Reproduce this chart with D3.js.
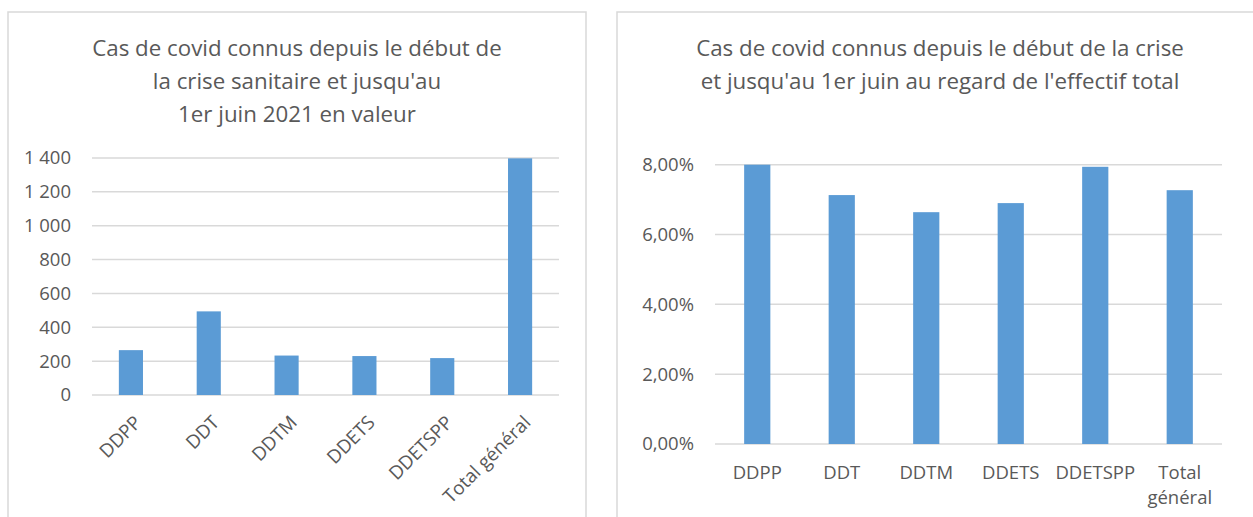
<!DOCTYPE html>
<html>
<head>
<meta charset="utf-8">
<script src="https://cdn.jsdelivr.net/npm/d3@7"></script>
<style>
  body { margin: 0; background: #fff; }
  text { font-family: "Open Sans", sans-serif; fill: #595959; }
</style>
</head>
<body>
<div id="chart"></div>
<script>
// Data
const categories = ["DDPP", "DDT", "DDTM", "DDETS", "DDETSPP", "Total général"];
const casValeur = [265, 494, 233, 230, 218, 1398];
const casTaux = [0.0800, 0.0713, 0.0664, 0.0690, 0.0794, 0.0727];
const valeurTicks = [0, 200, 400, 600, 800, 1000, 1200, 1400];
const tauxTicks = [0, 0.02, 0.04, 0.06, 0.08];
const titreValeur = ["Cas de covid connus depuis le début de", "la crise sanitaire et jusqu'au", "1er juin 2021 en valeur"];
const titreTaux = ["Cas de covid connus depuis le début de la crise", "et jusqu'au 1er juin au regard de l'effectif total"];

const width = 1253, height = 517;
const barColor = "#5B9BD5", gridColor = "#D9D9D9";

// French number formats: "1 400" and "8,00%"
const fr = d3.formatLocale({ decimal: ",", thousands: " ", grouping: [3], currency: ["", " €"], percent: "%" });
const fmtValeur = fr.format(",d");
const fmtTaux = fr.format(".2%");

const svg = d3.select("#chart")
    .append("svg")
    .attr("width", width)
    .attr("height", height);

// chart frames
svg.append("rect")
    .attr("x", 8).attr("y", 12)
    .attr("width", 578).attr("height", 530)
    .attr("fill", "none").attr("stroke", gridColor).attr("stroke-width", 1.5);
svg.append("rect")
    .attr("x", 617).attr("y", 12)
    .attr("width", 650).attr("height", 530)
    .attr("fill", "none").attr("stroke", gridColor).attr("stroke-width", 1.5);

function drawTitle(lines, cx) {
    svg.append("text")
        .attr("text-anchor", "middle")
        .style("font-size", "22.3px")
        .selectAll("tspan")
        .data(lines)
        .join("tspan")
        .attr("x", cx)
        .attr("y", (d, i) => 56 + i * 33)
        .text(d => d);
}

function drawBars(values, ticks, fmt, x0, x1, yTop, yBottom) {
    const x = d3.scaleBand()
        .domain(categories)
        .range([x0, x1])
        .paddingInner(0.69)
        .paddingOuter(0.345);

    const y = d3.scaleLinear()
        .domain([0, ticks[ticks.length - 1]])
        .range([yBottom, yTop]);

    // gridlines
    svg.append("g")
        .selectAll("line")
        .data(ticks)
        .join("line")
        .attr("x1", x0).attr("x2", x1)
        .attr("y1", d => y(d)).attr("y2", d => y(d))
        .attr("stroke", gridColor)
        .attr("stroke-width", 1.5);

    // y labels
    svg.append("g")
        .selectAll("text")
        .data(ticks)
        .join("text")
        .attr("x", x0 - 21)
        .attr("y", d => y(d))
        .attr("dy", "0.35em")
        .attr("text-anchor", "end")
        .style("font-size", "18.5px")
        .text(d => fmt(d));

    // bars
    svg.append("g")
        .selectAll("rect")
        .data(values)
        .join("rect")
        .attr("x", (d, i) => x(categories[i]))
        .attr("width", x.bandwidth())
        .attr("y", d => y(d))
        .attr("height", d => yBottom - y(d))
        .attr("fill", barColor);

    return x;
}

// Left chart: values
drawTitle(titreValeur, 297);
const xLeft = drawBars(casValeur, valeurTicks, fmtValeur, 92, 559, 158, 395);

svg.append("g")
    .selectAll("text")
    .data(categories)
    .join("text")
    .attr("text-anchor", "end")
    .attr("dy", "0.35em")
    .attr("transform", d => `translate(${xLeft(d) + xLeft.bandwidth() / 2 + 7},${419}) rotate(-45)`)
    .style("font-size", "18.8px")
    .text(d => d);

// Right chart: share of total staff
drawTitle(titreTaux, 940);
const xRight = drawBars(casTaux, tauxTicks, fmtTaux, 715, 1222, 164.7, 444);

// horizontal labels, wrapped when wider than the category step
svg.append("g")
    .selectAll("text")
    .data(categories)
    .join("text")
    .attr("text-anchor", "middle")
    .style("font-size", "18.5px")
    .each(function(d) {
        const cx = xRight(d) + xRight.bandwidth() / 2;
        const words = d.length > 8 ? d.split(" ") : [d];
        d3.select(this).selectAll("tspan")
            .data(words)
            .join("tspan")
            .attr("x", cx)
            .attr("y", (w, i) => 479 + i * 25)
            .text(w => w);
    });
</script>
</body>
</html>
